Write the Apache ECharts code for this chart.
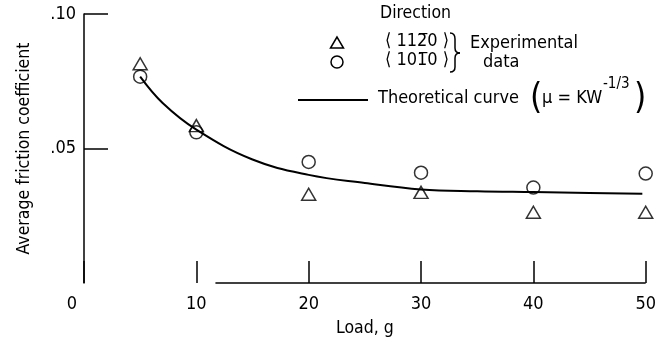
<!DOCTYPE html>
<html>
<head>
<meta charset="utf-8">
<script src="https://cdn.jsdelivr.net/npm/echarts@6/dist/echarts.min.js"></script>
<style>
  html, body { margin: 0; padding: 0; background: #fff; }
  #main { width: 659px; height: 342px; }
</style>
</head>
<body>
<div id="main"></div>
<script>
// load, g
var loads = [5, 10, 20, 30, 40, 50];
// <11-20> direction (triangles)
var triValues = [0.0815, 0.0585, 0.033, 0.0337, 0.0263, 0.0263];
// <10-10> direction (circles)
var circValues = [0.0767, 0.056, 0.045, 0.041, 0.0355, 0.0407];
// theoretical curve
var curveLoads = [5, 7, 10, 15, 20, 25, 30, 35, 40, 45, 49.7];
var curveValues = [0.0767, 0.0669, 0.057, 0.0459, 0.0402, 0.0372, 0.0348, 0.0341, 0.0338, 0.0335, 0.0332];
var xTicks = [0, 10, 20, 30, 40, 50];
var yTicks = [0.05, 0.10];
var xLineStart = 11.7;   // bottom axis line only starts here in the original

var font = 'DejaVu Sans Condensed';

function pairs(xs, ys) {
    return xs.map(function (x, i) { return [x, ys[i]]; });
}

function txt(left, top, text, size) {
    return { type: 'text', left: left, top: top,
             style: { text: text, fontFamily: font, fontSize: size, fill: '#000' } };
}

var stroke = { stroke: '#000', lineWidth: 1.5, fill: 'none' };

var chart = echarts.init(document.getElementById('main'));

var option = {
    backgroundColor: '#fff',
    animation: false,
    grid: { left: 84, right: 11, top: 14, bottom: 58 },
    xAxis: {
        type: 'value',
        min: 0, max: 50, interval: 10,
        name: 'Load, g',
        nameLocation: 'middle',
        nameGap: 36,
        nameTextStyle: { color: '#000', fontFamily: font, fontSize: 17.5 },
        axisLine: { show: false },
        axisTick: {
            inside: true, length: 22,
            customValues: xTicks,
            lineStyle: { color: '#000', width: 1.5 }
        },
        axisLabel: {
            color: '#000', fontFamily: font, fontSize: 18, margin: 12,
            customValues: xTicks,
            formatter: function (v) { return v === 0 ? '{z|0}' : String(v); },
            rich: { z: { fontFamily: font, fontSize: 18, color: '#000', padding: [0, 24, 0, 0] } }
        },
        splitLine: { show: false }
    },
    yAxis: {
        type: 'value',
        min: 0, max: 0.1, interval: 0.05,
        name: 'Average friction coefficient',
        nameLocation: 'middle',
        nameGap: 51,
        nameTextStyle: { color: '#000', fontFamily: font, fontSize: 17.5 },
        axisLine: { show: true, lineStyle: { color: '#000', width: 1.5 } },
        axisTick: {
            inside: true, length: 24,
            customValues: yTicks,
            lineStyle: { color: '#000', width: 1.5 }
        },
        axisLabel: {
            color: '#000', fontFamily: font, fontSize: 18, margin: 8,
            customValues: yTicks,
            formatter: function (v) { return '.' + Math.round(v * 100).toString().padStart(2, '0'); }
        },
        splitLine: { show: false }
    },
    series: [{
        name: 'Theoretical curve',
        type: 'line',
        data: pairs(curveLoads, curveValues),
        smooth: 0.4,
        showSymbol: false,
        lineStyle: { color: '#000', width: 2 },
        z: 2,
        markLine: {
            silent: true,
            symbol: 'none',
            label: { show: false },
            lineStyle: { color: '#000', width: 1.5, type: 'solid' },
            data: [[{ coord: [xLineStart, 0] }, { coord: [50, 0] }]]
        }
    }, {
        name: '<1120>',
        type: 'scatter',
        data: pairs(loads, triValues),
        symbol: 'triangle',
        symbolSize: [14, 12],
        itemStyle: { color: 'rgba(0,0,0,0)', borderColor: '#000', borderWidth: 1.5 },
        z: 3
    }, {
        name: '<1010>',
        type: 'scatter',
        data: pairs(loads, circValues),
        symbol: 'circle',
        symbolSize: 13,
        itemStyle: { color: 'rgba(0,0,0,0)', borderColor: '#000', borderWidth: 1.5 },
        z: 3
    }],
    graphic: [
        txt(380, 4, 'Direction', 17.5),
        { type: 'polygon', shape: { points: [[337, 37], [330.5, 48], [343.5, 48]] }, style: stroke },
        { type: 'circle', shape: { cx: 337, cy: 62, r: 6 }, style: stroke },
        txt(385, 32, '\u27E8 112\u03050 \u27E9', 18),
        txt(385, 51, '\u27E8 101\u03050 \u27E9', 18),
        // brace
        { type: 'bezierCurve', shape: { x1: 450, y1: 33, cpx1: 455, cpy1: 33, x2: 455, y2: 39 }, style: stroke },
        { type: 'line', shape: { x1: 455, y1: 39, x2: 455, y2: 48 }, style: stroke },
        { type: 'bezierCurve', shape: { x1: 455, y1: 48, cpx1: 455, cpy1: 53, x2: 460, y2: 53 }, style: stroke },
        { type: 'bezierCurve', shape: { x1: 460, y1: 53, cpx1: 455, cpy1: 53, x2: 455, y2: 58 }, style: stroke },
        { type: 'line', shape: { x1: 455, y1: 58, x2: 455, y2: 67 }, style: stroke },
        { type: 'bezierCurve', shape: { x1: 455, y1: 67, cpx1: 455, cpy1: 72, x2: 450, y2: 72 }, style: stroke },
        txt(470, 34, 'Experimental', 18),
        txt(483, 53, 'data', 18),
        { type: 'line', shape: { x1: 298, y1: 100, x2: 368, y2: 100 }, style: { stroke: '#000', lineWidth: 2 } },
        txt(378, 89, 'Theoretical curve', 18),
        txt(530, 81, '(', 35),
        txt(542, 89, '\u03BC = KW', 18),
        txt(603, 77, '-1/3', 15),
        txt(634, 81, ')', 35)
    ]
};

chart.setOption(option);
</script>
</body>
</html>
